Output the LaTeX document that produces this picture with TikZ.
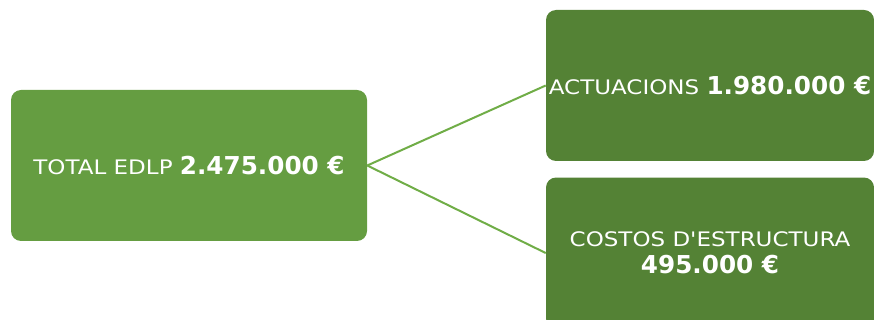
\documentclass[tikz,border=0pt]{standalone}
\usepackage{fontspec}
\setmainfont{DejaVu Sans}[FakeStretch=1.15,Ligatures=TeXOff]
\newfontfamily\amountfont{DejaVu Sans}
\usetikzlibrary{positioning}

\definecolor{leafgreen}{HTML}{659D41}
\definecolor{darkgreen}{HTML}{548235}
\definecolor{linkgreen}{HTML}{70AD47}

\newcommand{\amount}[1]{{\amountfont\fontsize{18.5}{21}\selectfont\bfseries #1}}

\begin{document}
\begin{tikzpicture}[
  x=0.75pt, y=-0.75pt,
  font=\fontsize{15}{21}\selectfont,
  box/.style={rounded corners=7.5pt,minimum height=113.25pt,
              align=center,text=white,inner sep=2pt},
  totalbox/.style={box,fill=leafgreen,minimum width=267pt},
  partbox/.style={box,fill=darkgreen,minimum width=246pt},
  link/.style={linkgreen,line width=1.5pt},
]
\useasboundingbox (0,0) rectangle (874,320);
\clip (0,0) rectangle (874,320);

%% ---- Total -----------------------------------------------------------------
\node[totalbox] (total) at (189,165.5) {TOTAL EDLP \amount{2.475.000 €}};

%% ---- Parts -----------------------------------------------------------------
\node[partbox] (acts) at (710,85.5) {ACTUACIONS \amount{1.980.000 €}};
\node[partbox, below=12pt of acts] (costs) {COSTOS D'ESTRUCTURA\\[-1pt]\amount{495.000 €}};

%% ---- Links -----------------------------------------------------------------
\draw[link] (total.east) -- (acts.west);
\draw[link] (total.east) -- (costs.west);

\end{tikzpicture}
\end{document}
